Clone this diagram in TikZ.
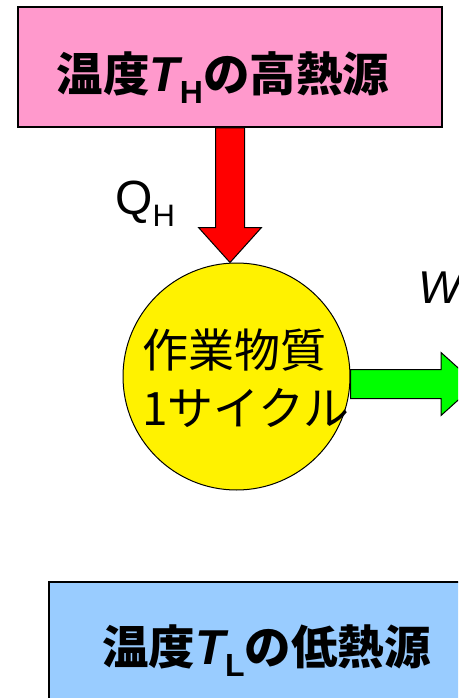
\documentclass[tikz,border=0pt]{standalone}
\usepackage{fontspec}
\setmainfont{Liberation Sans}
\newfontfamily\jp{Noto Sans CJK JP}
\usetikzlibrary{calc}
\usetikzlibrary{positioning}
\definecolor{hotpink}{RGB}{255,153,204}
\definecolor{coldblue}{RGB}{153,204,255}
\definecolor{workgreen}{RGB}{0,255,0}
\newcommand{\tsubs}[1]{{\normalfont\bfseries\itshape\fontsize{49}{49}\selectfont T}\raisebox{-12pt}{\normalfont\bfseries\fontsize{32}{32}\selectfont #1}}
\tikzstyle{src}=[draw,rectangle,line width=1.5pt,inner sep=0pt]
\tikzstyle{srctext}=[inner sep=0pt,font=\jp\bfseries\fontsize{46.5}{50}\selectfont]
\tikzstyle{fat}=[draw,line width=1pt,line join=miter,to path={
  ($(\tikztostart)!14.5pt!90:(\tikztotarget)$)
  -- ($(\tikztotarget)!35pt!(\tikztostart)!14.5pt!90:(\tikztotarget)$)
  -- ($(\tikztotarget)!35pt!(\tikztostart)!31.5pt!90:(\tikztotarget)$)
  -- (\tikztotarget)
  -- ($(\tikztotarget)!35pt!(\tikztostart)!31.5pt!-90:(\tikztotarget)$)
  -- ($(\tikztotarget)!35pt!(\tikztostart)!14.5pt!-90:(\tikztotarget)$)
  -- ($(\tikztostart)!14.5pt!-90:(\tikztotarget)$) -- cycle}]

\begin{document}
\begin{tikzpicture}[x=1pt,y=-1pt]
  \useasboundingbox (0,0) rectangle (458,698);
  \clip (0,0) rectangle (458,698);
  \node [src,fill=hotpink,minimum width=424,minimum height=120] (hot) at (230,67) {};
  \node [srctext] (hottxt) at (223,78) {温度\tsubs{H}の高熱源};
  \node [draw,circle,line width=1pt,fill=yellow,minimum size=227,inner sep=0pt] (body) at (236.5,376.5) {};
  \node [anchor=west,inner sep=0pt,align=left,font=\jp\fontsize{46}{57.5}\selectfont] (bodytxt) at (142,378) {作業物質\\1サイクル};
  \node [src,fill=coldblue,minimum width=437,minimum height=136,anchor=north west] (cold) at (48,581) {};
  \node [srctext] (coldtxt) at (266.5,651) {温度\tsubs{L}の低熱源};
  \coordinate (wout) at (476,384);
  \draw [fat,fill=red] (hot.south) to (hot.south |- body.north);
  \draw [fat,fill=workgreen] (wout -| body.east) to (wout);
  \node [anchor=base west,inner sep=0pt,font=\fontsize{48}{48}\selectfont] (qh) at (115,214) {Q\raisebox{-12pt}{\fontsize{31}{31}\selectfont H}};
  \node [anchor=base west,inner sep=0pt,font=\itshape\fontsize{46}{46}\selectfont] (w) at (418,303) {W};
\end{tikzpicture}
\end{document}
